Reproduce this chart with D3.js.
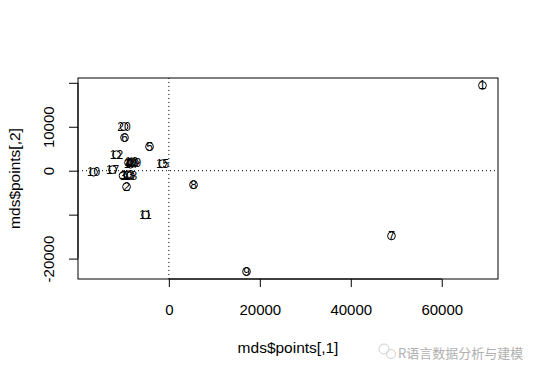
<!DOCTYPE html>
<html><head><meta charset="utf-8">
<script src="https://cdn.jsdelivr.net/npm/d3@7"></script>
<style>body{margin:0;background:#fff}svg{display:block}</style>
</head><body>
<script>
const labels = ["1","2","3","4","5","6","7","8","9","10","11","12","13","14","15","16","17","18","19","20"];
const xValues = [68950,-9300,-10070,-8860,-4240,-9740,48950,5430,17080,-16550,-5120,-11500,-9080,-8420,-1380,-8200,-12370,-8420,-7540,-9850];
const yValues = [19400,-3650,-1140,1830,5480,7530,-14840,-3200,-22950,-340,-10050,3650,-910,1480,1600,2050,230,-1140,1830,10050];
const xTicks = [0,20000,40000,60000];
const yTicks = [-20000,-10000,0,10000,20000];
const yTickLabels = ["-20000","","0","10000",""];
const xTitle = "mds$points[,1]";
const yTitle = "mds$points[,2]";
const watermark = "R语言数据分析与建模";

const W=539,H=377;
const L=78,R=498,T=78,B=279;
const svg=d3.select("body").append("svg").attr("width",W).attr("height",H);
const font="'Liberation Sans',Arial,Helvetica,sans-serif";

function ext(vals){const mn=d3.min(vals),mx=d3.max(vals),r=mx-mn;return [mn-0.04*r,mx+0.04*r];}
const x=d3.scaleLinear().domain(ext(xValues)).range([L,R]);
const y=d3.scaleLinear().domain(ext(yValues)).range([B,T]);

// dotted reference lines
svg.append("line").attr("x1",x(0)).attr("x2",x(0)).attr("y1",T).attr("y2",B)
  .attr("stroke","#000").attr("stroke-dasharray","1,3").attr("stroke-width",1);
svg.append("line").attr("x1",L).attr("x2",R).attr("y1",y(0)).attr("y2",y(0))
  .attr("stroke","#000").attr("stroke-dasharray","1,3").attr("stroke-width",1);

// box
svg.append("rect").attr("x",L).attr("y",T).attr("width",R-L).attr("height",B-T)
  .attr("fill","none").attr("stroke","#000").attr("stroke-width",1);

// x axis
const gx=svg.append("g").attr("transform",`translate(0,${B})`)
  .call(d3.axisBottom(x).tickValues(xTicks).tickSize(8).tickPadding(17).tickFormat(d=>String(d)));
gx.select(".domain").attr("d",`M${x(xTicks[0])},0H${x(xTicks[xTicks.length-1])}`);
gx.selectAll("text").attr("font-family",font).attr("font-size",15).attr("fill","#000");

// y axis
const gy=svg.append("g").attr("transform",`translate(${L},0)`)
  .call(d3.axisLeft(y).tickValues(yTicks).tickSize(9).tickFormat((d,i)=>yTickLabels[i]));
gy.select(".domain").attr("d",`M0,${y(yTicks[0])}V${y(yTicks[yTicks.length-1])}`);
gy.selectAll("text").attr("font-family",font).attr("font-size",15).attr("fill","#000")
  .attr("x",0).attr("dy",0).attr("text-anchor","middle")
  .attr("transform","translate(-28,0) rotate(-90)").attr("dominant-baseline","middle");

// titles
svg.append("text").attr("x",(L+R)/2).attr("y",353).attr("text-anchor","middle")
  .attr("font-family",font).attr("font-size",15.5).text(xTitle);
svg.append("text").attr("transform",`translate(16,${(T+B)/2}) rotate(-90)`).attr("text-anchor","middle")
  .attr("dominant-baseline","middle").attr("font-family",font).attr("font-size",15.5).text(yTitle);

// points
const pts=labels.map((l,i)=>({l,x:xValues[i],y:yValues[i]}));
svg.append("g").selectAll("circle").data(pts).join("circle")
  .attr("cx",d=>x(d.x)).attr("cy",d=>y(d.y)).attr("r",3.9)
  .attr("fill","none").attr("stroke","#000").attr("stroke-width",1);
svg.append("g").selectAll("text").data(pts).join("text")
  .attr("x",d=>x(d.x)).attr("y",d=>y(d.y)).attr("text-anchor","middle")
  .attr("dominant-baseline","central").attr("font-family",font).attr("font-size",12)
  .text(d=>d.l);

// watermark
const wm=svg.append("g").attr("opacity",0.55);
wm.append("circle").attr("cx",384).attr("cy",349).attr("r",5).attr("fill","none").attr("stroke","#aaa");
wm.append("circle").attr("cx",391).attr("cy",354).attr("r",4.5).attr("fill","none").attr("stroke","#aaa");
svg.append("text").attr("x",398).attr("y",358).attr("font-family","'Noto Sans CJK SC',sans-serif")
  .attr("font-size",13).attr("fill","#b0b0b0").text(watermark);
</script>
</body></html>
